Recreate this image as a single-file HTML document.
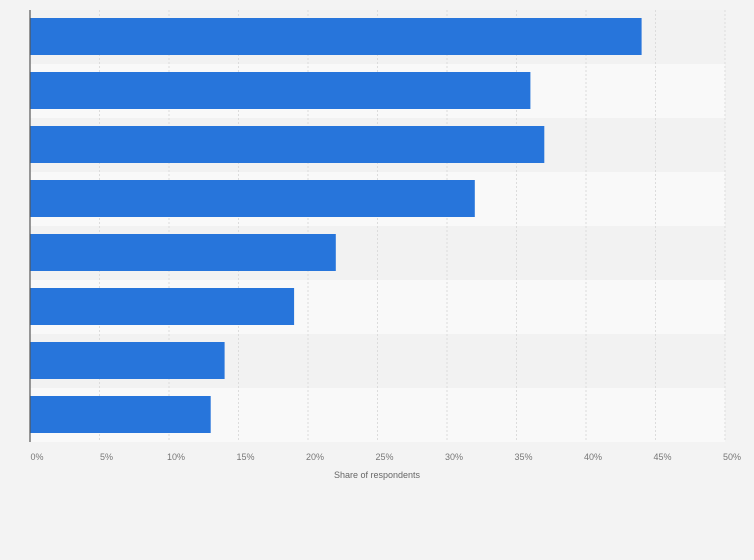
<!DOCTYPE html>
<html><head><meta charset="utf-8"><style>
html,body{margin:0;padding:0;background:#f3f3f3;}
svg{display:block;font-family:"Liberation Sans",sans-serif;}
</style></head><body>
<svg id="chart" width="754" height="560"></svg>
<script>
const categories=["Item 1","Item 2","Item 3","Item 4","Item 5","Item 6","Item 7","Item 8"];
const values=[44,36,37,32,22,19,14,13];
const ticks=[0,5,10,15,20,25,30,35,40,45,50];
const tickLabels=["0%","5%","10%","15%","20%","25%","30%","35%","40%","45%","50%"];
const NS="http://www.w3.org/2000/svg";
const svg=document.getElementById('chart');
const x0=30,x1=725,yTop=10,band=54;
const xs=v=>x0+(v/50)*(x1-x0);
const ys=i=>yTop+i*band;
function mk(t,a){const e=document.createElementNS(NS,t);for(const k in a)e.setAttribute(k,a[k]);svg.appendChild(e);return e;}
categories.forEach((c,i)=>{
 const r=mk('rect',{x:x0,y:ys(i),width:x1-x0,height:band,fill:i%2?'#f9f9f9':'#f2f2f2'});
 
 
});
ticks.forEach((t,i)=>{
 if(i>0){const l=mk('line',{x1:xs(t),x2:xs(t),y1:yTop,y2:yTop+band*categories.length,stroke:'#dcdcdc','stroke-dasharray':'2,2'});
 
 }
 const tx=mk('text',{x:xs(t)+7,y:460,'font-size':9,fill:'#777','text-anchor':'middle'});
 tx.textContent=tickLabels[i];
 
 
});
values.forEach((v,i)=>{
 const b=mk('rect',{x:x0,y:ys(i)+8,width:xs(v)-x0,height:37,fill:'#2775db'});
 
 
});
const ax=mk('line',{x1:x0,x2:x0,y1:yTop,y2:yTop+band*categories.length,stroke:'#555','stroke-width':1.2});


const tt=mk('text',{x:377,y:478,'font-size':9,fill:'#666','text-anchor':'middle'});
tt.textContent='Share of respondents';


</script>
</body></html>
